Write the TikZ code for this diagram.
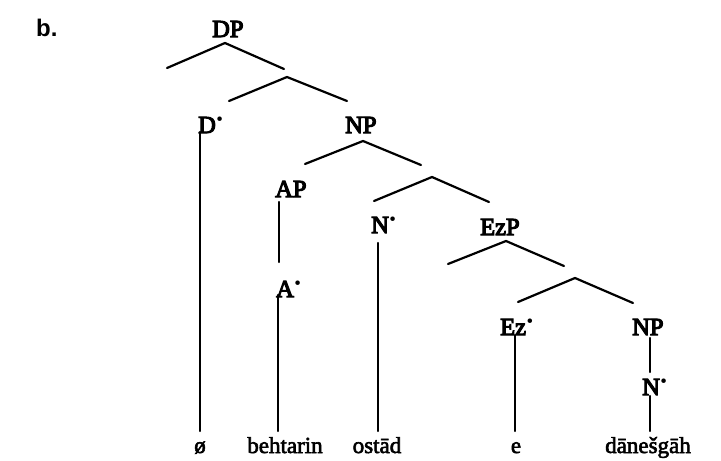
\documentclass[tikz,border=0pt]{standalone}
\usepackage{fontspec}
\setmainfont{Liberation Serif}
\newfontfamily\exfont{Liberation Sans}
\newcommand\lvdot{\kern0.6pt\raisebox{7.5pt}{\fontsize{19}{19}\selectfont\textbullet}}
\newcommand\heavy[1]{\special{pdf:literal direct 2 Tr 0.6 w}#1\special{pdf:literal direct 0 Tr}}
\newcommand\heavier[1]{\special{pdf:literal direct 2 Tr 1.1 w}#1\special{pdf:literal direct 0 Tr}}
\begin{document}
\begin{tikzpicture}[x=1pt,y=-1pt,
  lab/.style={inner sep=0pt,anchor=base west,font=\fontsize{24.5}{28}\selectfont},
  word/.style={inner sep=0pt,anchor=base,font=\fontsize{23}{27}\selectfont},
  br/.style={line width=2.2pt,line cap=round,line join=miter}]
\useasboundingbox (0,0) rectangle (721,461);
\node[inner sep=0pt,anchor=base west,font=\exfont\bfseries\fontsize{24}{28}\selectfont] (ex) at (36,36) {b.};
% labels
\node[lab] (DP) at (212,37) {\heavier{DP}};
\node[lab] (Dbar) at (198,133) {\heavier{D}\lvdot};
\node[lab] (NP) at (345,133) {\heavier{NP}};
\node[lab] (AP) at (275,197) {\heavier{AP}};
\node[lab] (Nbar) at (371,233) {\heavier{N}\lvdot};
\node[lab] (EzP) at (480,235) {\heavier{EzP}};
\node[lab] (Abar) at (276,297) {\heavier{A}\lvdot};
\node[lab] (Ezbar) at (500,335) {\heavier{Ez}\lvdot};
\node[lab] (NPb) at (632,335) {\heavier{NP}};
\node[lab] (Nbarb) at (642,395) {\heavier{N}\lvdot};
% words
\node[word] (w1) at (200,453) {\heavy{ø}};
\node[word] (w2) at (285,453) {\heavy{behtarin}};
\node[word] (w3) at (377,453) {\heavy{ostād}};
\node[word] (w4) at (516,453) {\heavy{e}};
\node[word] (w5) at (648,453) {\heavy{dānešgāh}};
% branch coordinates
\coordinate (a1) at (225,43); \coordinate (l1) at (167,68); \coordinate (r1) at (284,69);
\coordinate (a2) at (287,77); \coordinate (l2) at (229,101); \coordinate (r2) at (347,101);
\coordinate (a3) at (363,141); \coordinate (l3) at (305,164); \coordinate (r3) at (421,165);
\coordinate (a4) at (432,177); \coordinate (l4) at (374,201); \coordinate (r4) at (489,202);
\coordinate (a5) at (506,241); \coordinate (l5) at (448,264); \coordinate (r5) at (564,266);
\coordinate (a6) at (575,278); \coordinate (l6) at (518,302); \coordinate (r6) at (633,303);
\draw[br] (l1) -- (a1) -- (r1);
\draw[br] (l2) -- (a2) -- (r2);
\draw[br] (l3) -- (a3) -- (r3);
\draw[br] (l4) -- (a4) -- (r4);
\draw[br] (l5) -- (a5) -- (r5);
\draw[br] (l6) -- (a6) -- (r6);
% vertical connectors
\coordinate (d1) at (200,132); \coordinate (d2) at (200,431);
\coordinate (p1) at (279,202); \coordinate (p2) at (279,262);
\coordinate (q1) at (278,295); \coordinate (q2) at (278,431);
\coordinate (n1) at (378,243); \coordinate (n2) at (378,431);
\coordinate (e1) at (515,335); \coordinate (e2) at (515,431);
\coordinate (k1) at (650,338); \coordinate (k2) at (650,372);
\coordinate (m1) at (650,396); \coordinate (m2) at (650,431);
\draw[br] (d1) -- (d2);
\draw[br] (p1) -- (p2);
\draw[br] (q1) -- (q2);
\draw[br] (n1) -- (n2);
\draw[br] (e1) -- (e2);
\draw[br] (k1) -- (k2);
\draw[br] (m1) -- (m2);
\end{tikzpicture}
\end{document}
